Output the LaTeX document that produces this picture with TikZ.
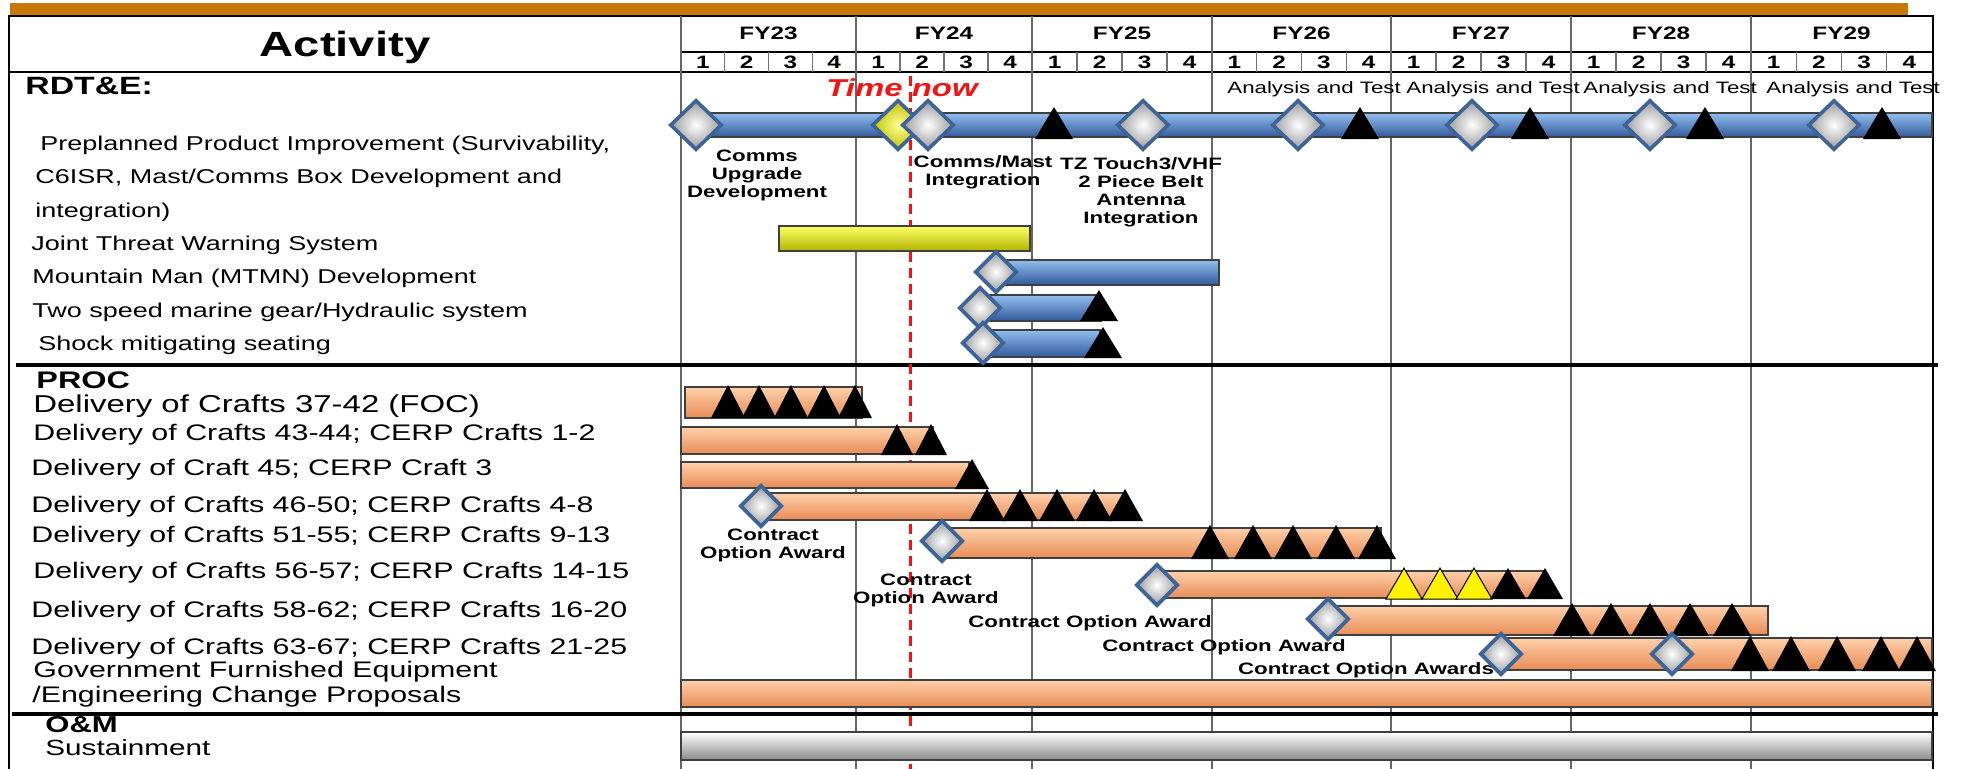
\documentclass[tikz,border=0pt]{standalone}
\usepackage{fontspec}
\setmainfont{Liberation Sans}[FakeStretch=1.35]
\usetikzlibrary{shapes.geometric}
\definecolor{barblue}{RGB}{95,145,210}
\definecolor{barblueL}{RGB}{145,190,238}
\definecolor{barblueD}{RGB}{50,90,155}
\definecolor{barorange}{RGB}{252,172,115}
\definecolor{barorangeL}{RGB}{254,208,170}
\definecolor{barorangeD}{RGB}{232,140,85}
\definecolor{bargray}{RGB}{200,200,200}
\definecolor{msedge}{RGB}{60,100,152}
\definecolor{bandgold}{RGB}{200,120,10}
\definecolor{bandgoldL}{RGB}{250,185,60}
\definecolor{timered}{RGB}{240,20,20}

\begin{document}
\begin{tikzpicture}[x=0.5pt,y=-0.5pt]
  \tikzstyle{grid}=[draw=black!60, line width=1pt]
  \tikzstyle{qline}=[draw=black!55, line width=0.7pt]
  \tikzstyle{sepline}=[draw=black, line width=2pt]
  \tikzstyle{nowline}=[draw=timered, line width=1.5pt, dash pattern=on 5pt off 3pt]
  \tikzstyle{bar}=[draw=black!75, line width=0.6pt]
  \tikzstyle{bluebar}=[bar, top color=barblueL, middle color=barblue, bottom color=barblueD]
  \tikzstyle{orangebar}=[bar, top color=barorangeL, middle color=barorange, bottom color=barorangeD]
  \tikzstyle{yellowbar}=[bar, top color=yellow!60!white, middle color=yellow, bottom color=yellow!70!black]
  \tikzstyle{graybar}=[bar, top color=white, middle color=bargray, bottom color=black!45]
  \tikzstyle{ms}=[diamond, draw=msedge, line width=1.8pt, inner sep=0pt, minimum width=21pt, minimum height=21pt, inner color=white, outer color=black!40]
  \tikzstyle{bigms}=[ms, minimum width=26pt, minimum height=25pt]
  \tikzstyle{tri}=[fill=black]
  \tikzstyle{ytri}=[fill=yellow, draw=black, line width=0.5pt]
  \tikzstyle{row}=[anchor=mid west, inner sep=0pt]
  \tikzstyle{mslbl}=[font=\fontsize{8.25}{9}\selectfont\bfseries, align=center, inner sep=0pt]
  \tikzstyle{fy}=[font=\fontsize{9}{10}\selectfont\bfseries, inner sep=0pt]
  \useasboundingbox (0,0) rectangle (1967,768);

  % gold band and frame
  \shade[top color=bandgold, middle color=bandgoldL, bottom color=bandgold] (10,3) rectangle (1908,15);
  \draw[line width=0.8pt] (9,16) rectangle (1933,770);
  \draw[line width=0.8pt] (681,52) -- (1933,52);
  \draw[line width=0.8pt] (9,72) -- (1933,72);

  % fiscal years and quarters
  \foreach \a/\b [count=\i from 23] in {681/856, 856/1032, 1032/1212, 1212/1391, 1391/1571, 1571/1751, 1751/1932} {
    \draw[grid] (\a,16) -- (\a,770);
    \node[fy] (fy\i) at ({(\a+\b)/2},33) {FY\i};
    \foreach \k in {1,...,4}
      \node[fy] (q\i\k) at ({\a+(\k-0.5)*(\b-\a)/4},62) {\k};
    \foreach \k in {1,2,3}
      \draw[qline] ({\a+\k*(\b-\a)/4},52) -- ++(0,20);
  }
  \draw[line width=0.8pt] (1933,16) -- (1933,770);

  \node[font=\fontsize{17.5}{20}\selectfont\bfseries] (activity) at (345,47) {Activity};

  % section separators
  \draw[sepline] (16,365) -- (1938,365);
  \draw[sepline] (12,714) -- (1938,714);

  % time now
  \draw[nowline] (910,76) -- (910,770);

  % RDT&E
  \node[row, font=\fontsize{12.5}{14}\selectfont\bfseries] (rdte) at (25,89) {RDT\&E:};
  \foreach \x [count=\j] in {1227,1406,1583,1766}
    \node[row, font=\fontsize{8.25}{9}\selectfont] (at\j) at (\x,88) {Analysis and Test};
  \node[font=\fontsize{12.2}{14}\selectfont\bfseries\itshape, text=timered] (timenow) at (902,88) {Time now};

  \draw[bluebar] (681,113) rectangle (1932,137);
  \foreach \x in {1054,1360,1530,1705,1882}
    \fill[tri] (\x,107) -- ++(-19,32) -- ++(38,0) -- cycle;
  \node[bigms] (ppi1) at (696,125) {};
  \node[bigms, inner color=yellow!40!white, outer color=yellow!75!black] (ppi2) at (898,125) {};
  \node[bigms] (ppi3) at (928,125) {};
  \node[bigms] (ppi4) at (1143,125) {};
  \node[bigms] (ppi5) at (1298,125) {};
  \node[bigms] (ppi6) at (1472,125) {};
  \node[bigms] (ppi7) at (1650,125) {};
  \node[bigms] (ppi8) at (1834,125) {};
  \node[mslbl] (comms) at (757,175) {Comms\\Upgrade\\Development};
  \node[mslbl] (mast) at (983,172) {Comms/Mast\\Integration};
  \node[mslbl] (tz) at (1141,192) {TZ Touch3/VHF\\2 Piece Belt\\Antenna\\Integration};

  \draw[yellowbar] (779,226) rectangle (1030,251);
  \draw[bluebar] (996,260) rectangle (1219,285);
  \node[ms] (mtmn) at (996,272) {};
  \draw[bluebar] (980,295) rectangle (1101,321);
  \fill[tri] (1099,290) -- ++(-19,31) -- ++(38,0) -- cycle;
  \node[ms] (gear) at (980,308) {};
  \draw[bluebar] (983,330) rectangle (1100,357);
  \fill[tri] (1103,327) -- ++(-19,31) -- ++(38,0) -- cycle;
  \node[ms] (seat) at (983,343) {};

  \node[row, font=\fontsize{10}{12}\selectfont] (ppi) at (40,145) {Preplanned Product Improvement (Survivability,};
  \node[row, font=\fontsize{10}{12}\selectfont] (ppib) at (35,178) {C6ISR, Mast/Comms Box Development and};
  \node[row, font=\fontsize{10}{12}\selectfont] (ppic) at (35,212) {integration)};
  \node[row, font=\fontsize{10}{12}\selectfont] (jtws) at (31,245) {Joint Threat Warning System};
  \node[row, font=\fontsize{10}{12}\selectfont] (mtmnl) at (32,278) {Mountain Man (MTMN) Development};
  \node[row, font=\fontsize{10}{12}\selectfont] (gearl) at (32,312) {Two speed marine gear/Hydraulic system};
  \node[row, font=\fontsize{10}{12}\selectfont] (seatl) at (38,345) {Shock mitigating seating};

  % PROC
  \node[row, font=\fontsize{12}{14}\selectfont\bfseries] (proc) at (36,383) {PROC};
  \node[row, font=\fontsize{12.2}{14}\selectfont] (d1) at (33,407) {Delivery of Crafts 37-42 (FOC)};
  \node[row, font=\fontsize{11.25}{13}\selectfont] (d2) at (33,435) {Delivery of Crafts 43-44; CERP Crafts 1-2};
  \node[row, font=\fontsize{11.25}{13}\selectfont] (d3) at (31,470) {Delivery of Craft 45; CERP Craft 3};
  \node[row, font=\fontsize{11.25}{13}\selectfont] (d4) at (31,507) {Delivery of Crafts 46-50; CERP Crafts 4-8};
  \node[row, font=\fontsize{11.25}{13}\selectfont] (d5) at (31,537) {Delivery of Crafts 51-55; CERP Crafts 9-13};
  \node[row, font=\fontsize{11.25}{13}\selectfont] (d6) at (33,573) {Delivery of Crafts 56-57; CERP Crafts 14-15};
  \node[row, font=\fontsize{11.25}{13}\selectfont] (d7) at (31,612) {Delivery of Crafts 58-62; CERP Crafts 16-20};
  \node[row, font=\fontsize{11.25}{13}\selectfont] (d8) at (31,649) {Delivery of Crafts 63-67; CERP Crafts 21-25};
  \node[row, font=\fontsize{11.25}{13}\selectfont] (gfe) at (33,672) {Government Furnished Equipment};
  \node[row, font=\fontsize{11.25}{13}\selectfont] (ecp) at (32,697) {/Engineering Change Proposals};

  \draw[orangebar] (685,387) rectangle (862,418);
  \foreach \x in {728,759,791,824,855}
    \fill[tri] (\x,385) -- ++(-17,33) -- ++(34,0) -- cycle;
  \draw[orangebar] (681,427) rectangle (933,454);
  \foreach \x in {897,931}
    \fill[tri] (\x,424) -- ++(-16,31) -- ++(32,0) -- cycle;
  \draw[orangebar] (681,462) rectangle (969,488);
  \fill[tri] (972,459) -- ++(-17,30) -- ++(34,0) -- cycle;

  \draw[orangebar] (761,493) rectangle (1125,520);
  \foreach \x in {987,1020,1057,1094,1125}
    \fill[tri] (\x,489) -- ++(-18,32) -- ++(36,0) -- cycle;
  \node[ms] (coa1) at (761,506) {};
  \node[mslbl] (coa1l) at (773,545) {Contract\\Option Award};

  \draw[orangebar] (942,528) rectangle (1381,558);
  \foreach \x in {1210,1253,1293,1336,1377}
    \fill[tri] (\x,525) -- ++(-19,34) -- ++(38,0) -- cycle;
  \node[ms] (coa2) at (942,541) {};
  \node[mslbl] (coa2l) at (926,590) {Contract\\Option Award};

  \draw[orangebar] (1157,571) rectangle (1545,598);
  \foreach \x in {1404,1440,1474}
    \filldraw[ytri] (\x,568) -- ++(-18,31) -- ++(36,0) -- cycle;
  \foreach \x in {1508,1545}
    \fill[tri] (\x,568) -- ++(-18,31) -- ++(36,0) -- cycle;
  \node[ms] (coa3) at (1157,585) {};
  \node[mslbl] (coa3l) at (1090,623) {Contract Option Award};

  \draw[orangebar] (1328,606) rectangle (1768,635);
  \foreach \x in {1572,1611,1650,1690,1732}
    \fill[tri] (\x,603) -- ++(-19,33) -- ++(38,0) -- cycle;
  \node[ms] (coa4) at (1328,619) {};
  \node[mslbl] (coa4l) at (1224,647) {Contract Option Award};

  \draw[orangebar] (1501,638) rectangle (1932,670);
  \foreach \x in {1750,1791,1837,1881,1917}
    \fill[tri] (\x,636) -- ++(-19,35) -- ++(38,0) -- cycle;
  \node[mslbl] (coa5l) at (1366,670) {Contract Option Awards};
  \node[ms] (coa5) at (1501,654) {};
  \node[ms] (coa6) at (1672,654) {};

  \draw[orangebar] (681,680) rectangle (1932,707);

  % O&M
  \node[row, font=\fontsize{11.5}{13}\selectfont\bfseries] (om) at (45,727) {O\&M};
  \node[row, font=\fontsize{11}{13}\selectfont] (sust) at (45,750) {Sustainment};
  \draw[graybar] (681,732) rectangle (1932,760);
\end{tikzpicture}
\end{document}
